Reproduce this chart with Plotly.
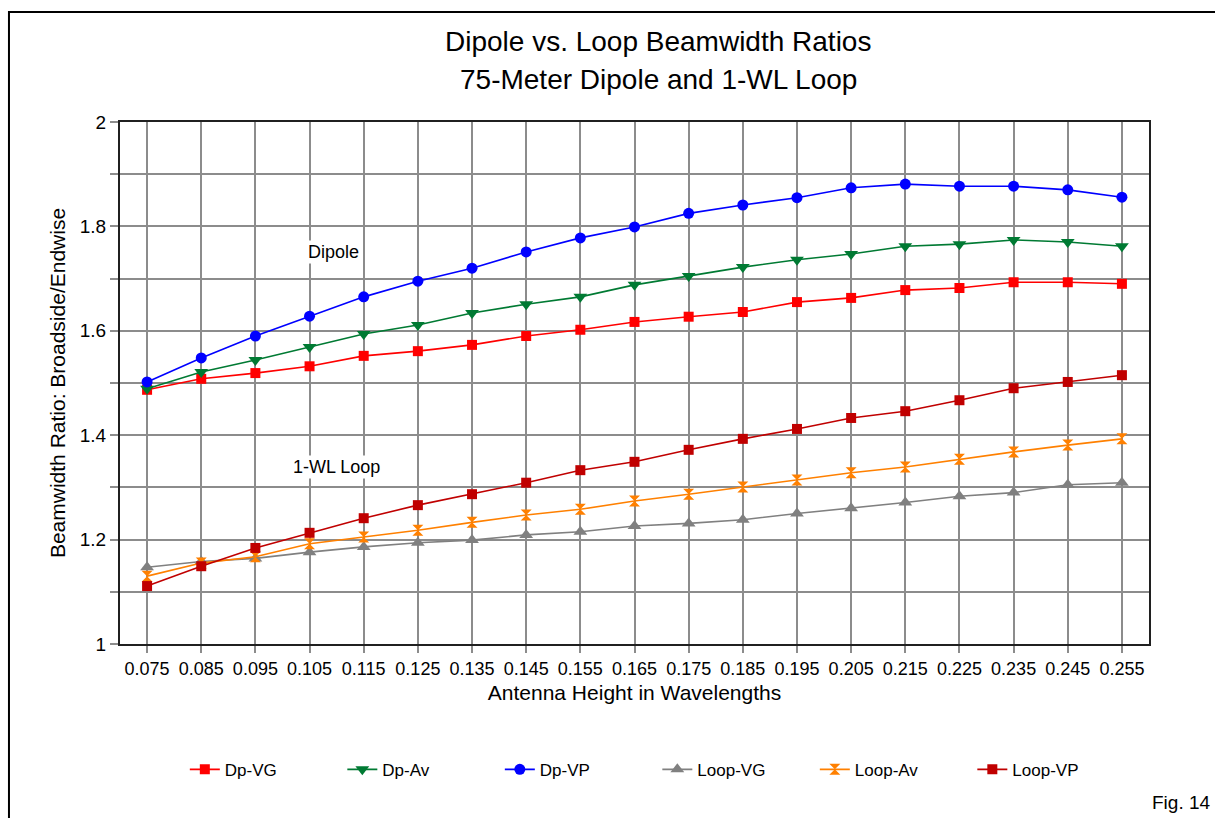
import plotly.graph_objects as go

heights = [0.075, 0.085, 0.095, 0.105, 0.115, 0.125, 0.135, 0.145, 0.155, 0.165,
           0.175, 0.185, 0.195, 0.205, 0.215, 0.225, 0.235, 0.245, 0.255]
tick_labels = ["0.075", "0.085", "0.095", "0.105", "0.115", "0.125", "0.135", "0.145", "0.155", "0.165",
               "0.175", "0.185", "0.195", "0.205", "0.215", "0.225", "0.235", "0.245", "0.255"]

dp_vg = [1.487, 1.508, 1.519, 1.532, 1.552, 1.561, 1.573, 1.590, 1.602, 1.617,
         1.627, 1.636, 1.655, 1.663, 1.678, 1.682, 1.693, 1.693, 1.690]
dp_av = [1.489, 1.521, 1.544, 1.569, 1.594, 1.611, 1.634, 1.651, 1.665, 1.688,
         1.705, 1.722, 1.736, 1.747, 1.762, 1.766, 1.774, 1.770, 1.762]
dp_vp = [1.502, 1.548, 1.590, 1.628, 1.665, 1.695, 1.720, 1.751, 1.778, 1.799,
         1.825, 1.841, 1.855, 1.874, 1.881, 1.877, 1.877, 1.870, 1.856]
loop_vg = [1.147, 1.158, 1.164, 1.176, 1.186, 1.194, 1.199, 1.209, 1.215, 1.226,
           1.231, 1.238, 1.250, 1.260, 1.271, 1.283, 1.290, 1.305, 1.309]
loop_av = [1.130, 1.155, 1.167, 1.192, 1.205, 1.218, 1.233, 1.247, 1.258, 1.274,
           1.287, 1.301, 1.314, 1.328, 1.339, 1.354, 1.368, 1.381, 1.393]
loop_vp = [1.111, 1.149, 1.184, 1.213, 1.241, 1.266, 1.287, 1.309, 1.333, 1.349,
           1.372, 1.393, 1.412, 1.433, 1.446, 1.467, 1.490, 1.502, 1.515]

y_ticks = [1.0, 1.1, 1.2, 1.3, 1.4, 1.5, 1.6, 1.7, 1.8, 1.9, 2.0]
y_tick_text = ["1", "", "1.2", "", "1.4", "", "1.6", "", "1.8", "", "2"]

series = [
    ("Dp-VG", dp_vg, "#FF0000", "square", 10),
    ("Dp-Av", dp_av, "#007A33", "triangle-down", 12),
    ("Dp-VP", dp_vp, "#0000FF", "circle", 11),
    ("Loop-VG", loop_vg, "#808080", "triangle-up", 12),
    ("Loop-Av", loop_av, "#FF8000", "hourglass", 11),
    ("Loop-VP", loop_vp, "#C00000", "square", 10),
]

FONT = "Liberation Sans, Arial, sans-serif"

fig = go.Figure()
for name, vals, color, sym, size in series:
    fig.add_trace(go.Scatter(
        x=heights, y=vals, name=name, mode="lines+markers",
        line=dict(color=color, width=1.6),
        marker=dict(symbol=sym, size=size, color=color, line=dict(width=0)),
    ))

fig.add_annotation(x=0.1095, y=1.751, text="Dipole", showarrow=False,
                   font=dict(size=18, color="black", family=FONT), bgcolor="white")
fig.add_annotation(x=0.1100, y=1.339, text="1-WL Loop", showarrow=False,
                   font=dict(size=18, color="black", family=FONT), bgcolor="white")

fig.add_annotation(xref="paper", yref="paper", x=0.523, y=1.1534, text="Dipole vs. Loop Beamwidth Ratios",
                   showarrow=False, font=dict(size=28, color="black", family=FONT), yanchor="middle")
fig.add_annotation(xref="paper", yref="paper", x=0.523, y=1.0805, text="75-Meter Dipole and 1-WL Loop",
                   showarrow=False, font=dict(size=28, color="black", family=FONT), yanchor="middle")
fig.add_annotation(xref="paper", yref="paper", x=1.062, y=-0.303, text="Fig. 14", xanchor="right",
                   showarrow=False, font=dict(size=19, color="black", family=FONT), yanchor="middle")

# outer frame
fig.add_shape(type="rect", xref="paper", yref="paper", x0=-0.1079, x1=1.3, y0=-0.6, y1=1.2107,
              line=dict(color="black", width=2), layer="below")

fig.update_layout(
    width=1215, height=818,
    margin=dict(l=120, r=66, t=122, b=174),
    paper_bgcolor="white", plot_bgcolor="white",
    font=dict(family=FONT, size=18, color="black"),
    showlegend=True,
    legend=dict(orientation="h", x=0.063, xanchor="left", y=-0.241, yanchor="middle",
                entrywidth=112.5, entrywidthmode="pixels", font=dict(size=17),
                bgcolor="rgba(0,0,0,0)", tracegroupgap=0),
)
fig.update_xaxes(
    range=[0.07, 0.26], tickvals=heights, ticktext=tick_labels,
    showgrid=True, gridcolor="#8C8C8C", gridwidth=2,
    showline=True, linecolor="#202020", linewidth=2, mirror=True,
    ticks="outside", ticklen=7, tickcolor="#8C8C8C", tickwidth=2,
    tickfont=dict(size=18), zeroline=False,
    title=dict(text="Antenna Height in Wavelengths", font=dict(size=21), standoff=8),
)
fig.update_yaxes(
    range=[1, 2], tickvals=y_ticks, ticktext=y_tick_text,
    showgrid=True, gridcolor="#8C8C8C", gridwidth=2,
    showline=True, linecolor="#202020", linewidth=2, mirror=True,
    ticks="outside", ticklen=8, tickcolor="#8C8C8C", tickwidth=2,
    tickfont=dict(size=19), zeroline=False,
    title=dict(text="Beamwidth Ratio: Broadside/Endwise", font=dict(size=21), standoff=8),
)

fig.write_html("out.html")
